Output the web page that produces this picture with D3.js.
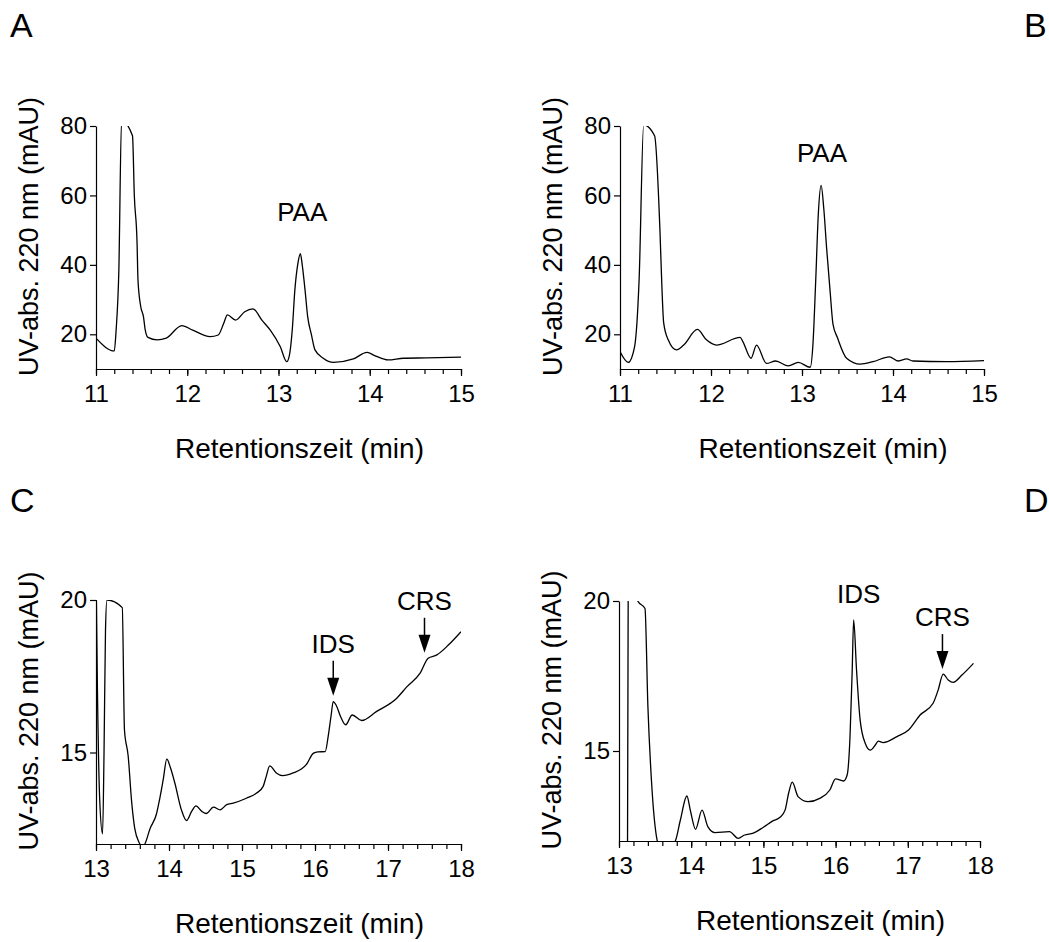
<!DOCTYPE html>
<html>
  <head>
    <meta charset='utf-8' />
    <script src="https://d3js.org/d3.v7.min.js"></script>
    <style>
    body { margin: 0; background: #fff; }
    text { font-family: "Liberation Sans", Arial, sans-serif; fill: #000; }
    .domain, .tick line { stroke: #000; stroke-width: 1.2px; }
    </style>
  </head>
  <body>
    <div id="chart"></div>
    <script>
// retention time (min), absorbance (mAU)
var traceA = [[11.00,18.9],[11.20,15.2],[11.22,21],[11.25,38],[11.28,81.5],[11.40,77.2],[11.42,60],
  [11.45,46.3],[11.46,35.7],[11.49,28],[11.52,25.1],[11.54,21.2],[11.57,19.1],[11.67,18.4],[11.77,18.9],
  [11.94,22.5],[12.06,21.2],[12.25,19.3],[12.34,19.8],[12.40,23.2],[12.44,25.6],[12.53,24.1],[12.63,26.5],
  [12.72,27.3],[12.82,24],[12.91,21.2],[13.02,16.4],[13.09,12.1],[13.12,14],[13.15,21],[13.18,33],
  [13.21,40],[13.24,43.2],[13.26,40],[13.29,33],[13.32,25],[13.36,20],[13.40,15.5],[13.49,13.1],
  [13.60,11.9],[13.82,12.9],[13.97,14.8],[14.06,13.8],[14.20,12.6],[14.37,13.1],[14.62,13.2],[15.00,13.4]];

var traceB = [[11.00,15.0],[11.09,11.9],[11.16,16.4],[11.21,35.7],[11.26,80.3],[11.38,77.2],[11.44,49.2],
  [11.46,34],[11.48,23.3],[11.53,18.4],[11.62,15.5],[11.70,16.9],[11.85,21.4],[11.95,18.4],[12.06,16.9],
  [12.32,19.1],[12.35,17.9],[12.44,13.1],[12.50,16.9],[12.61,11.6],[12.71,12.3],[12.85,10.9],[12.96,11.9],
  [13.09,10.5],[13.12,17],[13.15,35],[13.18,55],[13.21,62.9],[13.24,56],[13.27,45],[13.31,32],[13.34,23],
  [13.39,19],[13.49,13.1],[13.64,11.4],[13.78,12.1],[13.96,13.5],[14.06,12.3],[14.15,12.9],[14.22,12.3],
  [14.59,12.1],[15.00,12.4]];

var traceC = [[13.00,21],[13.02,17],[13.05,13.5],[13.09,12.33],[13.11,15],[13.13,19],[13.15,20.0],
  [13.36,19.75],[13.39,15.74],[13.44,14.9],[13.49,13.34],[13.53,12.52],[13.60,12.0],[13.63,11.85],
  [13.67,12.0],[13.74,12.5],[13.83,13.0],[13.87,13.45],[13.92,14.1],[13.97,14.78],[14.02,14.5],[14.08,14.0],
  [14.17,13.12],[14.24,12.77],[14.31,13.07],[14.37,13.25],[14.45,13.07],[14.51,13.0],[14.61,13.21],
  [14.70,13.12],[14.79,13.29],[14.88,13.34],[15.06,13.5],[15.20,13.67],[15.29,13.89],[15.33,14.2],
  [15.38,14.56],[15.47,14.33],[15.56,14.24],[15.70,14.33],[15.88,14.6],[15.98,14.98],[16.04,15.02],
  [16.14,15.03],[16.18,15.52],[16.22,16.2],[16.25,16.67],[16.29,16.55],[16.35,16.18],[16.42,15.91],
  [16.51,16.23],[16.64,16.05],[16.84,16.34],[17.12,16.78],[17.26,17.16],[17.44,17.6],[17.55,18.09],
  [17.67,18.2],[17.83,18.53],[18.00,18.96]];

var traceD = [[13.00,11.5],[13.09,11.7],[13.118,11.8],[13.128,21],[13.15,22],[13.26,20.0],[13.36,19.75],
  [13.40,16.5],[13.45,14.0],[13.53,12.0],[13.56,11.8],[13.70,11.8],[13.78,12.0],[13.85,12.7],[13.94,13.5],
  [13.99,13.0],[14.06,12.39],[14.15,13.03],[14.23,12.48],[14.33,12.28],[14.53,12.31],[14.65,12.09],
  [14.74,12.2],[14.86,12.26],[15.00,12.46],[15.13,12.67],[15.23,12.79],[15.30,13.03],[15.35,13.6],
  [15.40,13.96],[15.48,13.48],[15.62,13.31],[15.78,13.42],[15.92,13.7],[16.00,14.07],[16.11,14.0],
  [16.16,14.2],[16.20,15.5],[16.23,17.7],[16.25,19.37],[16.29,17.7],[16.34,16.03],[16.41,15.26],
  [16.48,15.03],[16.55,15.2],[16.59,15.33],[16.66,15.28],[16.85,15.48],[17.01,15.7],[17.17,16.2],
  [17.35,16.59],[17.42,17.03],[17.49,17.56],[17.56,17.37],[17.63,17.29],[17.75,17.53],[17.91,17.92]];

var xTicksAB = [11, 12, 13, 14, 15];
var xTicksCD = [13, 14, 15, 16, 17, 18];
var yTicksAB = [20, 40, 60, 80];
var yTicksCD = [15, 20];

// peak labels: [text, time, mAU, arrow?]  (arrow tip or label baseline)
var labelsA = [["PAA", 13.26, 52.5, false]];
var labelsB = [["PAA", 13.22, 69.6, false]];
var labelsC = [["IDS", 16.25, 16.86, true], ["CRS", 17.50, 18.27, true]];
var labelsD = [["IDS", 16.32, 19.93, false], ["CRS", 17.48, 17.73, true]];

var yTitle = "UV-abs. 220 nm (mAU)";
var xTitle = "Retentionszeit (min)";

var svg = d3.select("#chart").append("svg")
    .attr("width", 1049).attr("height", 942);

var panels = [
  {id: "A", data: traceA, xd: [11, 15], yd: [10, 80], xt: xTicksAB, yt: yTicksAB, labels: labelsA,
   left: 96, right: 461, top: 126, bottom: 369, lx: 10, ly: 37},
  {id: "B", data: traceB, xd: [11, 15], yd: [10, 80], xt: xTicksAB, yt: yTicksAB, labels: labelsB,
   left: 620, right: 984, top: 126, bottom: 369, lx: 1024, ly: 37},
  {id: "C", data: traceC, xd: [13, 18], yd: [12, 20], xt: xTicksCD, yt: yTicksCD, labels: labelsC,
   left: 96, right: 461, top: 600, bottom: 844, lx: 10, ly: 512},
  {id: "D", data: traceD, xd: [13, 18], yd: [12, 20], xt: xTicksCD, yt: yTicksCD, labels: labelsD,
   left: 619, right: 980, top: 601, bottom: 841, lx: 1024, ly: 512}
];

panels.forEach(function(p) {
  var x = d3.scaleLinear().domain(p.xd).range([p.left, p.right]);
  var y = d3.scaleLinear().domain(p.yd).range([p.bottom, p.top]);
  var g = svg.append("g");

  svg.append("clipPath").attr("id", "clip" + p.id)
    .append("rect")
      .attr("x", p.left).attr("y", p.top)
      .attr("width", p.right - p.left).attr("height", p.bottom - p.top);

  var minor = d3.range(p.xd[0], p.xd[1] + 0.001, 0.2);

  g.append("g")
      .attr("transform", "translate(0," + p.bottom + ")")
      .call(d3.axisBottom(x).tickValues(minor).tickSize(5).tickSizeOuter(0).tickFormat(""));
  g.append("g")
      .attr("transform", "translate(0," + p.bottom + ")")
      .call(d3.axisBottom(x).tickValues(p.xt).tickSize(7).tickSizeOuter(0).tickPadding(9)
        .tickFormat(d3.format("d")))
      .selectAll("text").style("font-size", "24px");
  g.append("g")
      .attr("transform", "translate(" + p.left + ",0)")
      .call(d3.axisLeft(y).tickValues(p.yt).tickSize(6).tickSizeOuter(0).tickPadding(3)
        .tickFormat(d3.format("d")))
      .selectAll("text").style("font-size", "24px");

  var line = d3.line()
      .x(function(d) { return x(d[0]); })
      .y(function(d) { return y(d[1]); })
      .curve(d3.curveMonotoneX);

  g.append("path")
      .datum(p.data)
      .attr("clip-path", "url(#clip" + p.id + ")")
      .attr("d", line)
      .style("fill", "none")
      .style("stroke", "#000")
      .style("stroke-width", 1.3);

  p.labels.forEach(function(l) {
    var lx = x(l[1]), ly = y(l[2]);
    if (l[3]) {
      g.append("line")
          .attr("x1", lx).attr("x2", lx)
          .attr("y1", ly - 35).attr("y2", ly - 16)
          .style("stroke", "#000").style("stroke-width", 1.5);
      g.append("path")
          .attr("d", "M" + (lx - 6) + "," + (ly - 18) + "L" + (lx + 6) + "," + (ly - 18) + "L" + lx + "," + ly + "Z")
          .style("fill", "#000");
      ly = ly - 43;
    }
    g.append("text")
        .attr("x", lx).attr("y", ly)
        .style("text-anchor", "middle")
        .style("font-size", "26px")
        .text(l[0]);
  });

  g.append("text")
      .attr("x", (p.left + p.right) / 2 + 21)
      .attr("y", p.bottom + 89)
      .style("text-anchor", "middle")
      .style("font-size", "28px")
      .text(xTitle);

  g.append("text")
      .attr("transform", "translate(" + (p.left - 58.5) + "," + ((p.top + p.bottom) / 2 - 11) + ") rotate(-90)")
      .style("text-anchor", "middle")
      .style("font-size", "27px")
      .text(yTitle);

  svg.append("text")
      .attr("x", p.lx).attr("y", p.ly)
      .style("font-size", "34px")
      .text(p.id);
});
    </script>
  </body>
</html>
